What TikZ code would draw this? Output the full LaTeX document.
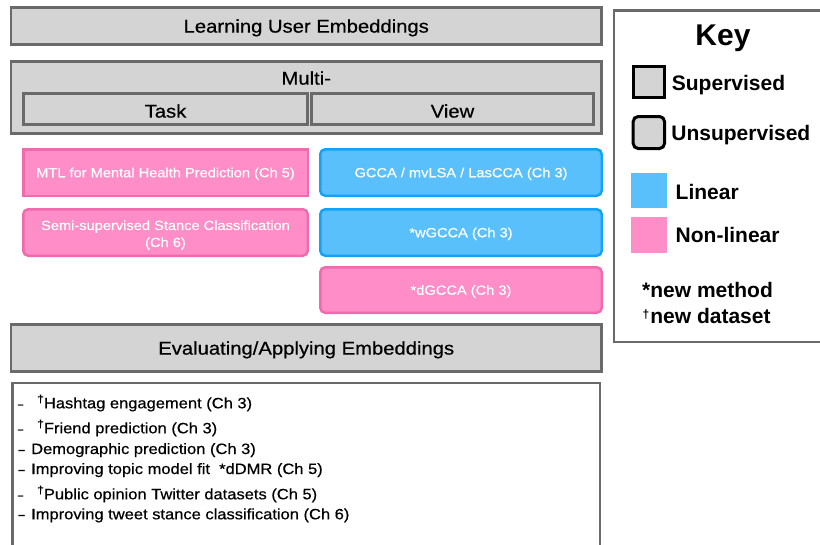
\documentclass[tikz,border=0pt]{standalone}
\usepackage{fontspec}
\setmainfont{Liberation Sans}[FakeStretch=1.1, FakeBold=0.5]
\newfontfamily\keyfont{Liberation Sans}
\definecolor{grayb}{HTML}{6A6A6A}
\definecolor{grayf}{HTML}{D4D4D4}
\definecolor{pinkf}{HTML}{FF8DC7}
\definecolor{pinkb}{HTML}{F06AAE}
\definecolor{bluef}{HTML}{5AC0FB}
\definecolor{blueb}{HTML}{12A3F7}
\tikzset{
  box/.style={anchor=center, inner sep=0pt, outer sep=0pt},
  graybox/.style={box, draw=grayb, fill=grayf, line width=2.8pt,
    font=\fontsize{18.4}{22}\selectfont, text height=17.2pt, text depth=4pt},
  lowtext/.style={text height=21.2pt, text depth=4pt},
  colbox/.style={box, line width=2.5pt, text=white,
    font=\fontsize{13.3}{17}\selectfont},
  oneline/.style={text height=12.5pt, text depth=3pt},
  pinksq/.style={colbox, draw=pinkb, fill=pinkf},
  pinkr/.style={colbox, draw=pinkb, fill=pinkf, rounded corners=5pt},
  bluer/.style={colbox, draw=blueb, fill=bluef, rounded corners=5pt},
  keytxt/.style={inner sep=0pt, anchor=base west, font=\keyfont\bfseries\fontsize{21}{24}\selectfont},
  listtxt/.style={inner sep=0pt, anchor=base west, font=\fontsize{15}{18}\selectfont},
  dashtxt/.style={inner sep=0pt, anchor=base west, font=\keyfont\bfseries\fontsize{13}{15}\selectfont},
  thindash/.style={inner sep=0pt, anchor=base west, font=\keyfont\bfseries\fontsize{11}{15}\selectfont},
}
\newcommand{\dg}{\raisebox{5.8pt}{\fontsize{11}{11}\selectfont\char"2020}}
\begin{document}
\begin{tikzpicture}[x=1pt,y=-1pt]
\useasboundingbox (0,0) rectangle (820,544);
\fill[white] (0,0) rectangle (820,544);
% top header
\node[graybox, minimum width=590.5pt, minimum height=37pt] (learn) at (306.25,26) {Learning User Embeddings};
% multi box
\node[graybox, minimum width=590.5pt, minimum height=72pt] (multi) at (306.25,97.5) {};
\node[inner sep=0pt, font=\fontsize{18.4}{22}\selectfont, text height=17.2pt, text depth=4pt] (multitxt) at (306.25,78) {Multi-};
\node[graybox, lowtext, minimum width=284pt, minimum height=31pt] (task) at (165.5,109) {Task};
\node[graybox, lowtext, minimum width=282pt, minimum height=31pt] (view) at (452.5,109) {View};
% method boxes
\node[pinksq, oneline, minimum width=284.5pt, minimum height=46.5pt] (mtl) at (165.5,172.5) {MTL for Mental Health Prediction (Ch 5)};
\node[bluer, oneline, minimum width=281.5pt, minimum height=46.5pt] (gcca) at (461,172.5) {GCCA / mvLSA / LasCCA (Ch 3)};
\node[pinkr, minimum width=284.5pt, minimum height=46.5pt, align=center, text height=31.7pt, text depth=2.7pt] (semi) at (165.5,232.5) {Semi-supervised Stance Classification\\(Ch 6)};
\node[bluer, oneline, minimum width=281.5pt, minimum height=46.5pt] (wgcca) at (461,232.5) {*wGCCA (Ch 3)};
\node[pinkr, oneline, minimum width=281.5pt, minimum height=45.5pt] (dgcca) at (461,290) {*dGCCA (Ch 3)};
% evaluating
\node[graybox, minimum width=590.5pt, minimum height=47.2pt] (evalh) at (306.25,348) {Evaluating/Applying Embeddings};
\node[box, draw=grayb, fill=white, line width=2.5pt, minimum width=587.5pt, minimum height=164.75pt] (list) at (306,465.6) {};
% list items
\node[thindash] (d1) at (17.5,408.3) {\char"2013};
\node[listtxt] (l1) at (37,408.3) {\dg Hashtag engagement (Ch 3)};
\node[thindash] (d2) at (17.5,433.3) {\char"2013};
\node[listtxt] (l2) at (37,433.3) {\dg Friend prediction (Ch 3)};
\node[dashtxt] (d3) at (18,454) {\char"2013};
\node[listtxt] (l3) at (31,454) {Demographic prediction (Ch 3)};
\node[dashtxt] (d4) at (18,474) {\char"2013};
\node[listtxt] (l4) at (31,474) {Improving topic model fit\ \ *dDMR (Ch 5)};
\node[thindash] (d5) at (17.5,499.3) {\char"2013};
\node[listtxt] (l5) at (37,499.3) {\dg Public opinion Twitter datasets (Ch 5)};
\node[dashtxt] (d6) at (18,519.3) {\char"2013};
\node[listtxt] (l6) at (31,519.3) {Improving tweet stance classification (Ch 6)};
% key
\node[box, draw=grayb, fill=white, line width=2.5pt, minimum width=216pt, minimum height=331.3pt] (key) at (722,176.15) {};
\node[inner sep=0pt, anchor=base, font=\keyfont\bfseries\fontsize{30}{34}\selectfont] (keyt) at (723,45) {Key};
\node[box, draw=black, fill=grayf, line width=3pt, minimum width=31.3pt, minimum height=31pt] (ksup) at (648.85,82) {};
\node[keytxt] (ksupt) at (671.7,90) {Supervised};
\node[box, draw=black, fill=grayf, line width=3pt, rounded corners=5pt, minimum width=31.3pt, minimum height=32pt] (kuns) at (648.85,132.5) {};
\node[keytxt] (kunst) at (671.2,140) {Unsupervised};
\node[box, fill=bluef, minimum width=35.7pt, minimum height=35pt] (klin) at (648.85,190.5) {};
\node[keytxt] (klint) at (675.5,199) {Linear};
\node[box, fill=pinkf, minimum width=35.7pt, minimum height=36pt] (knon) at (648.85,235) {};
\node[keytxt] (knont) at (675.5,242) {Non-linear};
\node[keytxt] (knew) at (642,297) {*new method};
\node[keytxt] (kdat) at (642.5,323) {\raisebox{4.7pt}{\fontsize{12}{12}\selectfont\char"2020}\hspace{1pt}new dataset};
\end{tikzpicture}
\end{document}
